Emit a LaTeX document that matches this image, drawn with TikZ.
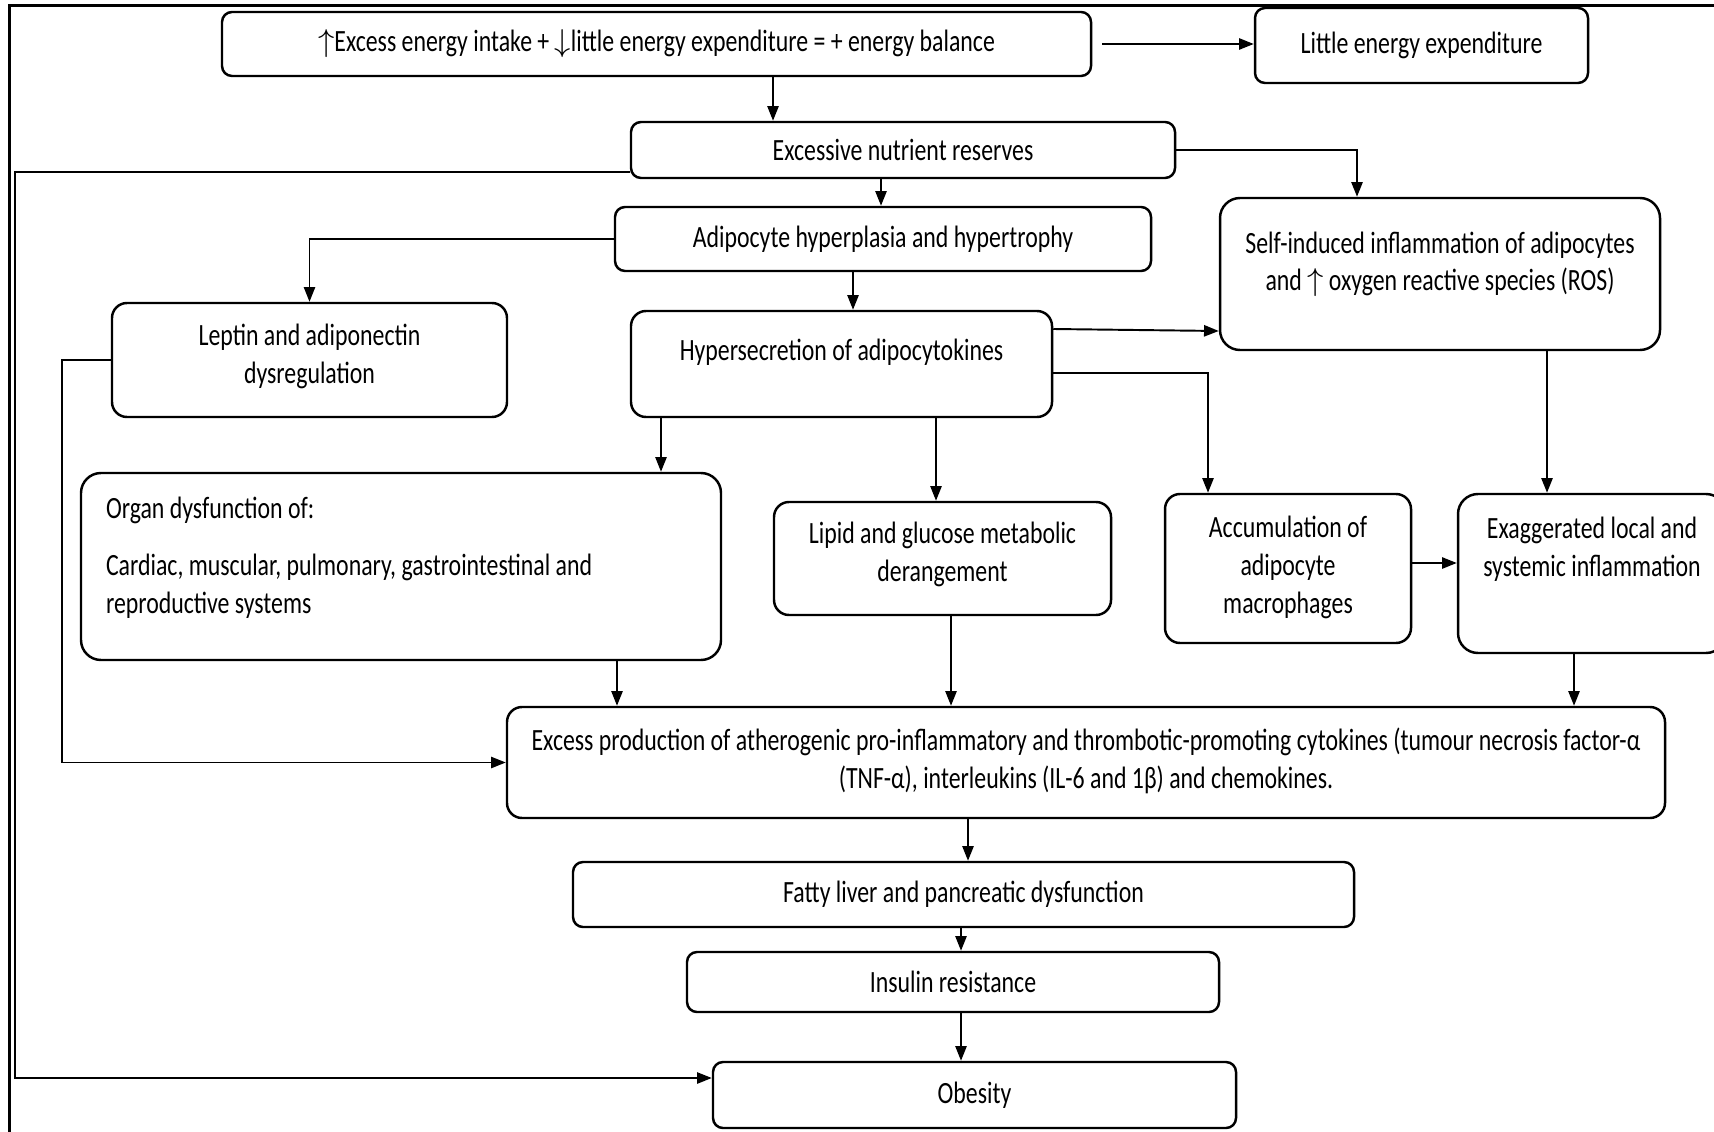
\documentclass[tikz,border=0pt]{standalone}
\usepackage{fontspec}
\setmainfont{Carlito}[FakeStretch=0.77]
\usetikzlibrary{arrows.meta}
\begin{document}
\begin{tikzpicture}[x=0.1mm,y=-0.1mm,
  font=\fontsize{8.8}{10.8}\selectfont,
  box/.style={draw,line width=0.7pt,rounded corners=1mm,inner sep=0pt,align=center},
  sz/.style 2 args={minimum width=#1*0.1mm,minimum height=#2*0.1mm},
  tb/.style={text height=0pt,text depth=#1*0.1mm},
  th/.style={text depth=0pt,text height=#1*0.1mm},
  arr/.style={line width=0.55pt,-{Triangle[length=4.2pt,width=3.2pt]}}]
\useasboundingbox (0,0) rectangle (1714,1131);
\clip (0,0) rectangle (1714,1131);
\draw[line width=0.9pt] (9.5,1140) |- (1720,5.5);
\node[box,sz={869}{64}] (energy) at (656.5,44) {$\uparrow$Excess energy intake + $\downarrow$little energy expenditure = + energy balance};
\node[box,sz={333}{75}] (little) at (1421.5,45.5) {Little energy expenditure};
\node[box,sz={544}{56}] (nut) at (903,150) {Excessive nutrient reserves};
\node[box,sz={536}{64}] (adipo) at (883,239) {Adipocyte hyperplasia and hypertrophy};
\node[box,sz={440}{152},rounded corners=2mm,th=34] (self) at (1440,274) {Self-induced inflammation of adipocytes\\and $\uparrow$ oxygen reactive species (ROS)};
\node[box,sz={395}{114},rounded corners=1.5mm,th=46] (leptin) at (309.5,360) {Leptin and adiponectin\\dysregulation};
\node[box,sz={421}{106},rounded corners=1.5mm,tb=6] (hyp) at (841.5,364) {Hypersecretion of adipocytokines};
\node[box,sz={640}{187},rounded corners=2mm,align=flush left,text width=59mm,inner xsep=2.5mm,tb=97] (organ) at (401,566.5) {Organ dysfunction of:\\[2mm]Cardiac, muscular, pulmonary, gastrointestinal and\\reproductive systems};
\node[box,sz={337}{113},rounded corners=1.5mm,th=45] (lipid) at (942.5,558.5) {Lipid and glucose metabolic\\derangement};
\node[box,sz={246}{149},rounded corners=1.5mm,th=89] (accum) at (1288,568.5) {Accumulation of\\adipocyte\\macrophages};
\node[box,sz={268}{159},rounded corners=2mm,th=5] (exag) at (1592,573.5) {Exaggerated local and\\systemic inflammation};
\node[box,sz={1158}{111},rounded corners=1.5mm,th=51] (cyto) at (1086,762.5) {Excess production of atherogenic pro-inflammatory and thrombotic-promoting cytokines (tumour necrosis factor-α\\(TNF-α), interleukins (IL-6 and 1β) and chemokines.};
\node[box,sz={781}{65}] (liver) at (963.5,894.5) {Fatty liver and pancreatic dysfunction};
\node[box,sz={532}{60}] (insulin) at (953,982) {Insulin resistance};
\node[box,sz={523}{66}] (obesity) at (974.5,1095) {Obesity};
\draw[arr] (energy.east) ++(10,0) -- (little.west |- energy.east);
\draw[arr] (energy.south -| 773,0) -- (nut.north -| 773,0);
\draw[arr] (nut.west |- 0,172) -- (15,172) -- (15,1078) -- (obesity.west |- 0,1078);
\draw[arr] (nut.south -| 881,0) -- (adipo.north -| 881,0);
\draw[arr] (nut.east) -| (self.north -| 1357,0);
\draw[arr] (adipo.west) -| (leptin.north);
\draw[arr] (adipo.south -| 853,0) -- (hyp.north -| 853,0);
\draw[arr] (hyp.east |- 0,329) -- (self.west |- 0,331);
\draw[arr] (hyp.east |- 0,373) -| (accum.north -| 1208,0);
\draw[arr] (self.south -| 1547,0) -- (exag.north -| 1547,0);
\draw[arr] (hyp.south -| 661,0) -- (organ.north -| 661,0);
\draw[arr] (hyp.south -| 936,0) -- (lipid.north -| 936,0);
\draw[arr] (leptin.west) -- (62,360) |- (cyto.west);
\draw[arr] (accum.east |- 0,563) -- (exag.west |- 0,563);
\draw[arr] (organ.south -| 617,0) -- (cyto.north -| 617,0);
\draw[arr] (lipid.south -| 951,0) -- (cyto.north -| 951,0);
\draw[arr] (exag.south -| 1574,0) -- (cyto.north -| 1574,0);
\draw[arr] (cyto.south -| 968,0) -- (liver.north -| 968,0);
\draw[arr] (liver.south -| 961,0) -- (insulin.north -| 961,0);
\draw[arr] (insulin.south -| 961,0) -- (obesity.north -| 961,0);
\end{tikzpicture}
\end{document}
